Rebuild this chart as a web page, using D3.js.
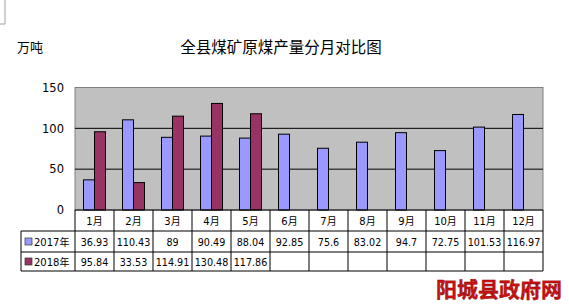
<!DOCTYPE html>
<html>
<head>
<meta charset="utf-8">
<script src="https://cdn.jsdelivr.net/npm/d3@7"></script>
<style>
body { margin: 0; background: #fff; }
svg { display: block; }
text { font-family: "DejaVu Sans", Verdana, "Noto Sans CJK SC", sans-serif; }
</style>
</head>
<body>
<div id="chart"></div>
<script>
var months = ["1月", "2月", "3月", "4月", "5月", "6月", "7月", "8月", "9月", "10月", "11月", "12月"];
var series2017 = [36.93, 110.43, 89, 90.49, 88.04, 92.85, 75.6, 83.02, 94.7, 72.75, 101.53, 116.97];
var series2018 = [95.84, 33.53, 114.91, 130.48, 117.86];
var seriesNames = ["2017年", "2018年"];
var yTicks = [0, 50, 100, 150];

var width = 569, height = 305;
var plotLeft = 75, plotRight = 543, plotTop = 87.5, plotBottom = 210;
var rowH = [21, 21, 19];
var legendLeft = 21;
var barW = 11;
var colors = ["#9999ff", "#993366"];

var svg = d3.select("#chart").append("svg")
    .attr("width", width)
    .attr("height", height);

// little frame fragment top-left
svg.append("path")
    .attr("d", "M5,0 V24 H0")
    .attr("fill", "none")
    .attr("stroke", "#a0a0a0");

svg.append("text")
    .attr("x", 17).attr("y", 52)
    .style("font-size", "13px")
    .style("font-family", "'Noto Sans CJK SC', sans-serif")
    .text("万吨");

svg.append("text")
    .attr("x", 281).attr("y", 53)
    .attr("text-anchor", "middle")
    .style("font-size", "15.5px")
    .style("font-family", "'Noto Sans CJK SC', sans-serif")
    .text("全县煤矿原煤产量分月对比图");

var x = d3.scaleBand().domain(months).range([plotLeft, plotRight]);
var y = d3.scaleLinear().domain([0, 150]).range([plotBottom, plotTop]);

svg.append("rect")
    .attr("x", plotLeft).attr("y", plotTop)
    .attr("width", plotRight - plotLeft).attr("height", plotBottom - plotTop)
    .attr("fill", "#c0c0c0")
    .attr("stroke", "#808080");

// gridlines
svg.selectAll(".grid").data(yTicks.filter(function(d) { return d > 0 && d < 150; }))
    .enter().append("line")
    .attr("x1", plotLeft).attr("x2", plotRight)
    .attr("y1", function(d) { return y(d); })
    .attr("y2", function(d) { return y(d); })
    .attr("stroke", "#000");

var yAxis = svg.append("g")
    .attr("transform", "translate(" + plotLeft + ",0)")
    .call(d3.axisLeft(y).tickValues(yTicks).tickSize(0).tickPadding(11));
yAxis.select(".domain").remove();
yAxis.selectAll("text").style("font-size", "11.5px").style("font-family", "'DejaVu Sans', sans-serif").attr("fill", "#000");

// bars
var allSeries = [series2017, series2018];
allSeries.forEach(function(vals, si) {
    svg.selectAll(".bar" + si).data(vals)
        .enter().append("rect")
        .attr("x", function(d, i) { return x(months[i]) + x.bandwidth() / 2 - barW + si * barW; })
        .attr("y", function(d) { return y(d); })
        .attr("width", barW)
        .attr("height", function(d) { return y(0) - y(d); })
        .attr("fill", colors[si])
        .attr("stroke", "#000")
        .attr("stroke-width", 1);
});

// data table
var row1 = plotBottom, row2 = row1 + rowH[0], row3 = row2 + rowH[1], row4 = row3 + rowH[2];
var tbl = svg.append("g").attr("fill", "none").attr("stroke", "#000").attr("stroke-width", 1);
tbl.append("line").attr("x1", plotLeft).attr("x2", plotRight).attr("y1", row1).attr("y2", row1);
[row2, row3, row4].forEach(function(ry) {
    tbl.append("line").attr("x1", legendLeft).attr("x2", plotRight).attr("y1", ry).attr("y2", ry);
});
tbl.append("line").attr("x1", legendLeft).attr("x2", legendLeft).attr("y1", row2).attr("y2", row4);
months.forEach(function(m, i) {
    var xx = x(m);
    tbl.append("line").attr("x1", xx).attr("x2", xx).attr("y1", row1).attr("y2", row4);
});
tbl.append("line").attr("x1", plotRight).attr("x2", plotRight).attr("y1", row1).attr("y2", row4);

svg.selectAll(".mlabel").data(months)
    .enter().append("text")
    .attr("x", function(d) { return x(d) + x.bandwidth() / 2; })
    .attr("y", row1 + 15)
    .attr("text-anchor", "middle")
    .style("font-size", "10px")
    .text(function(d) { return d; });

var rowYs = [row2, row3];
allSeries.forEach(function(vals, si) {
    var ry = rowYs[si];
    svg.append("rect")
        .attr("x", 25).attr("y", ry + rowH[si + 1] / 2 - 3.5)
        .attr("width", 7).attr("height", 7)
        .attr("fill", colors[si])
        .attr("stroke", "#333").attr("stroke-width", 0.7);
    svg.append("text")
        .attr("x", 34).attr("y", ry + rowH[si + 1] / 2 + 4)
        .style("font-size", "10px")
        .text(seriesNames[si]);
    svg.selectAll(".val" + si).data(vals)
        .enter().append("text")
        .attr("x", function(d, i) { return x(months[i]) + x.bandwidth() / 2; })
        .attr("y", ry + rowH[si + 1] / 2 + 4)
        .attr("text-anchor", "middle")
        .style("font-size", "9.6px")
        .text(function(d) { return d; });
});

// watermark
svg.append("text")
    .attr("x", 562).attr("y", 297)
    .attr("text-anchor", "end")
    .style("font-size", "21px")
    .style("font-weight", "bold")
    .style("font-family", "'Noto Sans CJK SC', sans-serif")
    .attr("fill", "#cc1111")
    .attr("stroke", "#7a0000")
    .attr("stroke-width", 0.4)
    .text("阳城县政府网");
</script>
</body>
</html>
